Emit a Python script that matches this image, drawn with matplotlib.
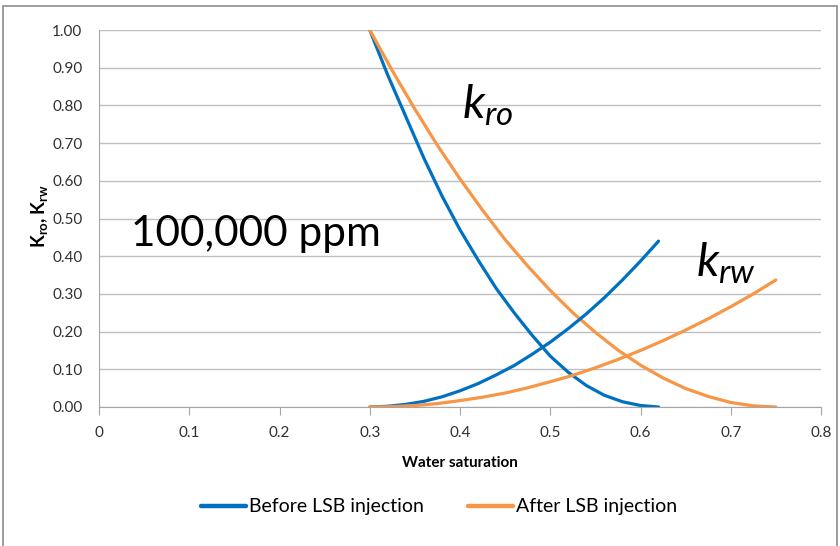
import numpy as np
import matplotlib
matplotlib.use("Agg")
import matplotlib.pyplot as plt
from matplotlib.patches import Rectangle

plt.rcParams['font.family'] = ['Lato', 'DejaVu Sans']
plt.rcParams['mathtext.fontset'] = 'custom'
plt.rcParams['mathtext.rm'] = 'Lato'
plt.rcParams['mathtext.it'] = 'Lato:italic'
plt.rcParams['mathtext.bf'] = 'Lato:bold'

# water saturation and relative permeabilities
sw_before = [0.30, 0.32, 0.34, 0.36, 0.38, 0.40, 0.42, 0.44, 0.46, 0.48,
             0.50, 0.52, 0.54, 0.56, 0.58, 0.60, 0.62]
kro_before = [1.00, 0.88, 0.77, 0.66, 0.56, 0.47, 0.39, 0.315, 0.25, 0.19,
              0.135, 0.092, 0.057, 0.031, 0.014, 0.004, 0.0]
krw_before = [0.0, 0.002, 0.007, 0.015, 0.027, 0.043, 0.062, 0.085, 0.11, 0.14,
              0.172, 0.208, 0.247, 0.29, 0.337, 0.387, 0.44]

sw_after = [0.300, 0.325, 0.350, 0.375, 0.400, 0.425, 0.450, 0.475, 0.500, 0.525,
            0.550, 0.575, 0.600, 0.625, 0.650, 0.675, 0.700, 0.725, 0.750]
kro_after = [1.00, 0.892, 0.79, 0.694, 0.605, 0.522, 0.444, 0.374, 0.309, 0.25,
             0.198, 0.151, 0.111, 0.077, 0.049, 0.028, 0.012, 0.003, 0.0]
krw_after = [0.0, 0.001, 0.004, 0.009, 0.017, 0.026, 0.037, 0.051, 0.067, 0.084,
             0.104, 0.126, 0.15, 0.176, 0.204, 0.234, 0.266, 0.30, 0.337]

xticks = [0, 0.1, 0.2, 0.3, 0.4, 0.5, 0.6, 0.7, 0.8]
xticklabels = ['0', '0.1', '0.2', '0.3', '0.4', '0.5', '0.6', '0.7', '0.8']
yticks = np.round(np.arange(0, 1.01, 0.1), 2)

blue = '#0070C0'
orange = '#F79646'

fig = plt.figure(figsize=(8.4, 5.46), dpi=100)
ax = fig.add_axes([99/840, 139/546, 722/840, 377/546])

ax.plot(sw_before, kro_before, color=blue, lw=2.3, label='Before LSB injection',
        solid_capstyle='round')
ax.plot(sw_after, kro_after, color=orange, lw=2.3, label='After LSB injection',
        solid_capstyle='round')
ax.plot(sw_before, krw_before, color=blue, lw=2.3, solid_capstyle='round')
ax.plot(sw_after, krw_after, color=orange, lw=2.3, solid_capstyle='round')

ax.set_xlim(0, 0.8)
ax.set_ylim(0, 1.0)
ax.set_xticks(xticks)
ax.set_xticklabels(xticklabels)
ax.set_yticks(yticks)
ax.set_yticklabels(['%.2f' % v for v in yticks])
ax.yaxis.grid(True, color='#bfbfbf', lw=1)
ax.set_axisbelow(True)

for side in ['top', 'right']:
    ax.spines[side].set_visible(False)
for side in ['left', 'bottom']:
    ax.spines[side].set_color('#a6a6a6')
ax.tick_params(axis='x', length=6, color='#a6a6a6', pad=8, labelsize=11, labelcolor='#303030')
ax.tick_params(axis='y', length=0, pad=12, labelsize=11, labelcolor='#303030')

ax.set_xlabel('Water saturation', fontsize=11, fontweight='bold', labelpad=11)
fig.text(39/840, 1 - 216/546, r'$\mathbf{K_{ro}, K_{rw}}$', rotation=90,
         ha='center', va='center', fontsize=13.5)

ax.text(0.035, 0.46, '100,000 ppm', fontsize=30.5, color='black', va='center')
ax.text(0.402, 0.765, r'$k_{ro}$', fontsize=34, color='black')
ax.text(0.662, 0.345, r'$k_{rw}$', fontsize=34, color='black')

leg = ax.legend(loc='center', bbox_to_anchor=(0.471, -0.265), ncol=2, frameon=False,
                fontsize=14, handlelength=2.3, handletextpad=0.15, columnspacing=2.3)
for line in leg.get_lines():
    line.set_linewidth(3.2)

fig.patches.append(Rectangle((3/840, -0.05), 834/840, 1 - 6/546 + 0.05, transform=fig.transFigure,
                             fill=False, edgecolor='#8c8c8c', lw=1.2))

fig.savefig('out.png', dpi=100)
